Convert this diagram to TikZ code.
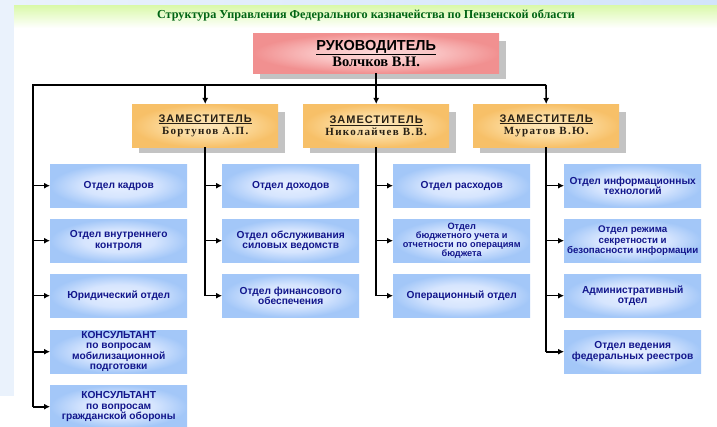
\documentclass[tikz,border=0pt]{standalone}
\usepackage{fontspec}
\setmainfont{Liberation Serif}
\newfontfamily\sansf{Liberation Sans}
\newfontfamily\zamf{Liberation Sans}[LetterSpace=9]
\newfontfamily\namef{Liberation Serif}[LetterSpace=12]
\usetikzlibrary{arrows.meta,calc}
\definecolor{navy}{RGB}{18,22,140}
\definecolor{titlegreen}{RGB}{0,100,20}
\definecolor{shadowgray}{RGB}{195,195,195}
\definecolor{bgblue}{RGB}{234,242,252}
\definecolor{bgblue2}{RGB}{210,228,250}
\definecolor{bandgreen}{RGB}{218,249,170}
\pgfdeclareradialshading{blueshade}{\pgfpointorigin}{color(0bp)=(rgb,255:red,230;green,239;blue,255); color(13bp)=(rgb,255:red,214;green,229;blue,254); color(25bp)=(rgb,255:red,163;green,199;blue,248); color(50bp)=(rgb,255:red,163;green,199;blue,248)}
\pgfdeclareradialshading{zamshade}{\pgfpointorigin}{color(0bp)=(rgb,255:red,253;green,230;blue,186); color(12bp)=(rgb,255:red,252;green,220;blue,160); color(25bp)=(rgb,255:red,247;green,192;blue,104); color(50bp)=(rgb,255:red,247;green,192;blue,104)}
\pgfdeclareradialshading{bossshade}{\pgfpointorigin}{color(0bp)=(rgb,255:red,252;green,216;blue,216); color(12bp)=(rgb,255:red,250;green,196;blue,196); color(25bp)=(rgb,255:red,241;green,144;blue,144); color(50bp)=(rgb,255:red,241;green,144;blue,144)}
\pgfdeclarelayer{bg}
\pgfsetlayers{bg,main}
\begin{document}
\begin{tikzpicture}[x=1pt,y=-1pt,
  conn/.style={line width=1.6pt, black, line join=miter},
  arr/.style={conn, -{Latex[length=6pt,width=6pt]}},
  dept/.style={shade, shading=blueshade, minimum width=137pt, minimum height=43pt, inner sep=1pt, align=center, anchor=north west, text=navy, font=\sansf\bfseries\fontsize{10.2}{10.5}\selectfont},
  zambox/.style={shade, shading=zamshade, minimum width=146pt, minimum height=43pt, inner sep=1pt, align=center, anchor=north west, text={rgb,255:red,40;green,32;blue,20}, font=\fontsize{11}{12.5}\selectfont},
  bossbox/.style={shade, shading=bossshade, minimum width=246pt, minimum height=40pt, inner sep=1pt, align=center, anchor=north west, text=black, font=\fontsize{14.5}{16}\selectfont}
]
\useasboundingbox (0,0) rectangle (717,427);
\begin{pgfonlayer}{bg}
  \fill[white] (0,0) rectangle (717,427);
  \fill[bgblue] (0,0) rectangle (14,396);
  \shade[left color=bgblue, right color=bgblue2] (0,0) rectangle (717,5.5);
  \shade[top color=bandgreen, bottom color=white] (14,5.5) rectangle (717,28);
\end{pgfonlayer}

\node[font=\bfseries\fontsize{12.2}{14}\selectfont, text=titlegreen] (title) at (366,15) {Структура Управления Федерального казначейства по Пензенской области};

\node[bossbox] (boss) at (253,33) {{\sansf\bfseries\underline{РУКОВОДИТЕЛЬ}}\\{\bfseries Волчков В.Н.}};

\node[zambox] (zam1) at (132,104) {{\zamf\bfseries\underline{ЗАМЕСТИТЕЛЬ}}\\{\namef\bfseries Бортунов А.П.}};
\node[zambox] (zam2) at (303,104) {{\zamf\bfseries\underline{ЗАМЕСТИТЕЛЬ}}\\{\namef\bfseries Николайчев В.В.}};
\node[zambox] (zam3) at (473,104) {{\zamf\bfseries\underline{ЗАМЕСТИТЕЛЬ}}\\{\namef\bfseries Муратов В.Ю.}};

\begin{pgfonlayer}{bg}
  \foreach \n in {boss,zam1,zam2,zam3}{
    \fill[shadowgray] ($(\n.north west)+(7,8)$) rectangle ($(\n.south east)+(7,6)$);
  }
\end{pgfonlayer}

% column 1
\node[dept] (c1r1) at (50,164) {Отдел кадров};
\node[dept] (c1r2) at (50,219) {Отдел внутреннего\\контроля};
\node[dept] (c1r3) at (50,274) {Юридический отдел};
\node[dept] (c1r4) at (50,330) {КОНСУЛЬТАНТ\\по вопросам\\мобилизационной\\подготовки};
\node[dept] (c1r5) at (50,385) {КОНСУЛЬТАНТ\\по вопросам\\гражданской обороны};
% column 2
\node[dept] (c2r1) at (222,164) {Отдел доходов};
\node[dept] (c2r2) at (222,219) {Отдел обслуживания\\силовых ведомств};
\node[dept] (c2r3) at (222,274) {Отдел финансового\\обеспечения};
% column 3
\node[dept] (c3r1) at (393,164) {Отдел расходов};
\node[dept, font=\sansf\bfseries\fontsize{9.2}{8.5}\selectfont] (c3r2) at (393,219) {Отдел\\бюджетного учета и\\отчетности по операциям\\бюджета};
\node[dept] (c3r3) at (393,274) {Операционный отдел};
% column 4
\node[dept] (c4r1) at (564,164) {Отдел информационных\\технологий};
\node[dept, font=\sansf\bfseries\fontsize{9.7}{10.5}\selectfont] (c4r2) at (564,219) {Отдел режима\\секретности и\\безопасности информации};
\node[dept] (c4r3) at (564,274) {Административный\\отдел};
\node[dept] (c4r4) at (564,330) {Отдел ведения\\федеральных реестров};

% connectors
\coordinate (hL) at (33,85);
\coordinate (hR) at (546,85);
\draw[conn] (boss.south) -- (boss.south |- hL);
\draw[conn] (hL |- c1r5.west) -- (hL) -- (hR);
\draw[arr] (hL -| zam1.north) -- (zam1.north);
\draw[arr] (hL -| zam2.north) -- (zam2.north);
\draw[arr] (hR) -- (zam3.north);

\foreach \r in {1,...,5}{
  \draw[arr] (hL |- c1r\r.west) -- (c1r\r.west);
}
\draw[conn] (zam1.south) -- (zam1.south |- c2r3.west);
\foreach \r in {1,2,3}{
  \draw[arr] (zam1.south |- c2r\r.west) -- (c2r\r.west);
}
\draw[conn] (zam2.south) -- (zam2.south |- c3r3.west);
\foreach \r in {1,2,3}{
  \draw[arr] (zam2.south |- c3r\r.west) -- (c3r\r.west);
}
\draw[conn] (zam3.south) -- (zam3.south |- c4r4.west);
\foreach \r in {1,...,4}{
  \draw[arr] (zam3.south |- c4r\r.west) -- (c4r\r.west);
}
\end{tikzpicture}
\end{document}
